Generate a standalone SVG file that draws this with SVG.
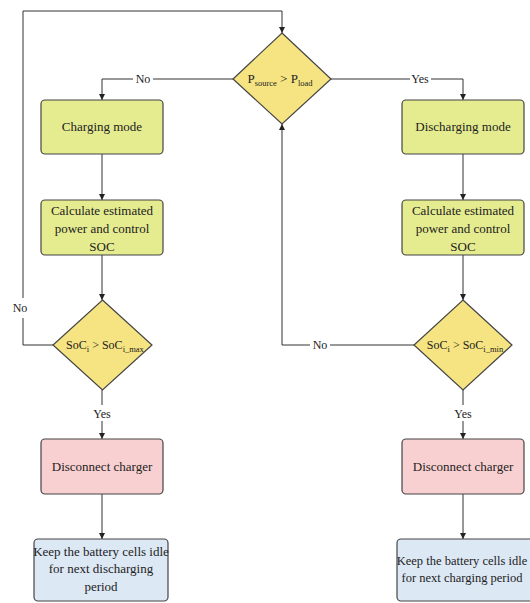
<svg xmlns="http://www.w3.org/2000/svg" width="530" height="603" viewBox="0 0 530 603" font-family="'Liberation Serif','Times New Roman',serif">
<defs>
<marker id="ah" viewBox="0 0 8 8" refX="8" refY="4" markerWidth="6" markerHeight="6" orient="auto" markerUnits="userSpaceOnUse">
<path d="M0,0 L8,4 L0,8 z" fill="#222"/>
</marker>
<style>
text{font-family:"Liberation Serif","Times New Roman",serif;font-size:13px;fill:#222;text-anchor:middle}
.lbl{font-size:12px}
.sub{font-size:8.5px}
.line{fill:none;stroke:#333;stroke-width:1}
.arr{marker-end:url(#ah)}
.green{fill:#e5ec8f;stroke:#444;stroke-width:1.2}
.pink{fill:#f9d0d1;stroke:#444;stroke-width:1.2}
.blue{fill:#dde8f5;stroke:#444;stroke-width:1.2}
.dia{fill:#f5e481;stroke:#444;stroke-width:1.2}
</style>
</defs>
<rect width="530" height="603" fill="#fff"/>
<g id="connectors">
<path class="line" d="M54,345 H23 V318"/>
<path class="line arr" d="M23,298 V11 H282 V33"/>
<path class="line" d="M233,79 H153"/>
<path class="line arr" d="M133,79 H102 V100"/>
<path class="line" d="M331,79 H410"/>
<path class="line arr" d="M431,79 H463 V100"/>
<path class="line arr" d="M102,154 V200"/>
<path class="line arr" d="M102,255 V300"/>
<path class="line" d="M102,390 V405"/>
<path class="line arr" d="M102,421 V439"/>
<path class="line arr" d="M102,494 V539"/>
<path class="line arr" d="M463,154 V200"/>
<path class="line arr" d="M463,255 V300"/>
<path class="line" d="M463,390 V405"/>
<path class="line arr" d="M463,421 V439"/>
<path class="line arr" d="M463,494 V539"/>
<path class="line" d="M414,345 H330"/>
<path class="line arr" d="M310,345 H282 V124"/>
<text class="lbl" x="20" y="312">No</text>
<text class="lbl" x="143" y="83">No</text>
<text class="lbl" x="420" y="83">Yes</text>
<text class="lbl" x="320" y="349">No</text>
<text class="lbl" x="102" y="418">Yes</text>
<text class="lbl" x="463" y="418">Yes</text>
</g>
<g id="decision-main">
<polygon class="dia" points="282,33 331,79 282,124 233,79"/>
<text x="280" y="83">P<tspan class="sub" dy="3">source</tspan><tspan dy="-3"> &gt; P</tspan><tspan class="sub" dy="3">load</tspan></text>
</g>
<g id="charging-mode">
<rect class="green" x="41" y="100" width="122" height="54" rx="4"/>
<text x="102" y="131">Charging mode</text>
</g>
<g id="discharging-mode">
<rect class="green" x="402" y="100" width="122" height="54" rx="4"/>
<text x="463" y="131">Discharging mode</text>
</g>
<g id="calc-left">
<rect class="green" x="41" y="200" width="122" height="55" rx="4"/>
<text x="102" y="215">Calculate estimated</text>
<text x="102" y="233">power and control</text>
<text x="102" y="251">SOC</text>
</g>
<g id="calc-right">
<rect class="green" x="402" y="200" width="122" height="55" rx="4"/>
<text x="463" y="215">Calculate estimated</text>
<text x="463" y="233">power and control</text>
<text x="463" y="251">SOC</text>
</g>
<g id="decision-max">
<polygon class="dia" points="102.5,300 152,345 102.5,390 53,345"/>
<text x="105" y="349" style="font-size:12px">SoC<tspan class="sub" dy="3">i</tspan><tspan dy="-3"> &gt; SoC</tspan><tspan class="sub" dy="3">i_max</tspan></text>
</g>
<g id="decision-min">
<polygon class="dia" points="463,300 512,345 463,390 414,345"/>
<text x="465" y="349" style="font-size:12px">SoC<tspan class="sub" dy="3">i</tspan><tspan dy="-3"> &gt; SoC</tspan><tspan class="sub" dy="3">i_min</tspan></text>
</g>
<g id="disconnect-left">
<rect class="pink" x="41" y="439" width="122" height="55" rx="4"/>
<text x="102" y="471">Disconnect charger</text>
</g>
<g id="disconnect-right">
<rect class="pink" x="402" y="439" width="122" height="55" rx="4"/>
<text x="463" y="471">Disconnect charger</text>
</g>
<g id="idle-left">
<rect class="blue" x="34" y="539" width="134" height="62" rx="4"/>
<text x="101" y="556">Keep the battery cells idle</text>
<text x="101" y="573">for next discharging</text>
<text x="101" y="591">period</text>
</g>
<g id="idle-right">
<rect class="blue" x="397" y="539" width="140" height="62" rx="4"/>
<text x="462" y="565" style="font-size:12.5px">Keep the battery cells idle</text>
<text x="462" y="582" style="font-size:12.5px">for next charging period</text>
</g>
</svg>
